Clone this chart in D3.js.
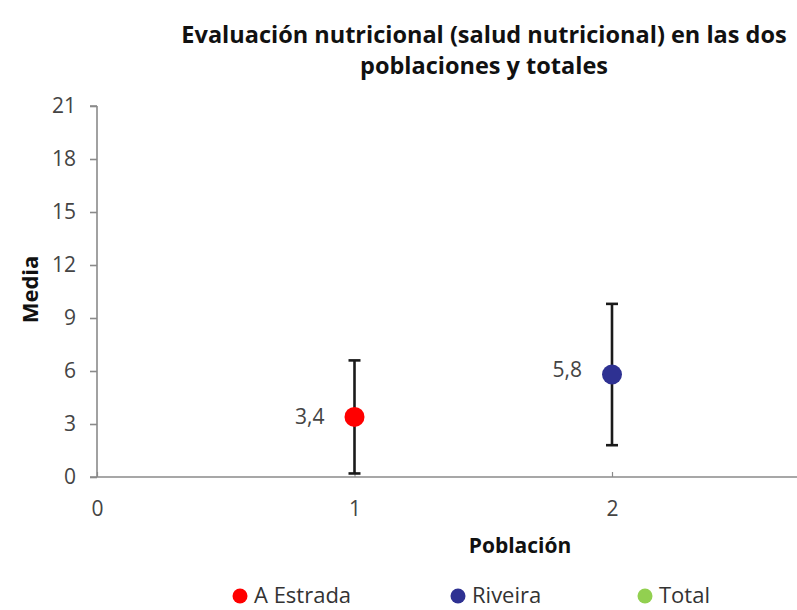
<!DOCTYPE html>
<html><head><meta charset="utf-8">
<script src="https://cdn.jsdelivr.net/npm/d3@7"></script>
<style>
body{margin:0;background:#fff;}
svg{display:block;font-family:"Open Sans",sans-serif;}
</style></head>
<body><svg id="c" width="797" height="610"></svg>
<script>
const categories = ["A Estrada", "Riveira", "Total"];
const xPositions = [1, 2, 3];
const means = [3.4, 5.8, 4.6];
const errors = [3.2, 4.0, 3.6];
const meanLabels = ["3,4", "5,8", "4,6"];
const colors = ["#ff0000", "#2e3192", "#92d050"];
const yTicks = [0, 3, 6, 9, 12, 15, 18, 21];
const xTicks = [0, 1, 2];

const W = 797;
const svg = d3.select("#c");
const x = d3.scaleLinear().domain([0, 3]).range([97, 869.5]);
const y = d3.scaleLinear().domain([0, 21]).range([477, 106]);

const axisColor = "#8a8a8a";
// Title
svg.append("text").attr("x", 484).attr("y", 43).attr("text-anchor", "middle")
  .attr("font-size", 23.5).attr("font-weight", "bold").attr("fill", "#111")
  .text("Evaluación nutricional (salud nutricional) en las dos");
svg.append("text").attr("x", 484).attr("y", 74).attr("text-anchor", "middle")
  .attr("font-size", 23.5).attr("font-weight", "bold").attr("fill", "#111")
  .text("poblaciones y totales");

// Y axis
const yAxis = svg.append("g").attr("transform", `translate(${x(0)},0)`)
  .call(d3.axisLeft(y).tickValues(yTicks).tickSize(7).tickPadding(14).tickFormat(d3.format("d")));
yAxis.select(".domain").attr("stroke", axisColor).attr("stroke-width", 1.6).attr("d", `M0,${y(21)}H-7M0,${y(21)}V${y(0)}`);
yAxis.selectAll(".tick line").attr("stroke", axisColor).attr("stroke-width", 1.6);
yAxis.selectAll(".tick text").attr("font-size", 21).attr("fill", "#444").attr("font-family", "Open Sans, sans-serif");

// X axis
const xAxis = svg.append("g").attr("transform", `translate(0,${y(0)})`)
  .call(d3.axisBottom(x).tickValues(xTicks).tickSize(-5).tickPadding(24).tickFormat(d3.format("d")));
xAxis.select(".domain").attr("stroke", axisColor).attr("stroke-width", 1.6).attr("d", `M${x(0)-7},0H${W + 10}`);
xAxis.selectAll(".tick line").attr("stroke", axisColor).attr("stroke-width", 1.2);
xAxis.selectAll(".tick text").attr("font-size", 21).attr("fill", "#444").attr("font-family", "Open Sans, sans-serif");

// Axis titles
svg.append("text").attr("transform", `translate(38,${(y(0)+y(21))/2 - 2}) rotate(-90)`)
  .attr("text-anchor", "middle").attr("font-size", 22).attr("font-weight", "bold").attr("fill", "#111").text("Media");
svg.append("text").attr("x", 520).attr("y", 553).attr("text-anchor", "middle")
  .attr("font-size", 21).attr("font-weight", "bold").attr("fill", "#111").text("Población");

// Error bars and points
const data = categories.map((c, i) => ({c, xv: xPositions[i], m: means[i], e: errors[i], lab: meanLabels[i], col: colors[i]}));
const g = svg.append("g");
data.forEach(d => {
  const cx = x(d.xv);
  g.append("line").attr("x1", cx).attr("x2", cx).attr("y1", y(d.m + d.e)).attr("y2", y(d.m - d.e))
    .attr("stroke", "#1a1a1a").attr("stroke-width", 2.6);
  [d.m + d.e, d.m - d.e].forEach(v => g.append("line").attr("x1", cx - 6).attr("x2", cx + 6)
    .attr("y1", y(v)).attr("y2", y(v)).attr("stroke", "#1a1a1a").attr("stroke-width", 2.6));
  g.append("circle").attr("cx", cx).attr("cy", y(d.m)).attr("r", 10).attr("fill", d.col);
  if (cx < W) {
    g.append("text").attr("x", cx - 30).attr("y", y(d.m) - (d.xv === 2 ? 5 : 0)).attr("dy", "0.35em")
      .attr("text-anchor", "end").attr("font-size", 21).attr("fill", "#444").text(d.lab);
  }
});

// Legend
const legX = [240, 458, 645];
data.forEach((d, i) => {
  svg.append("circle").attr("cx", legX[i]).attr("cy", 596).attr("r", 7.5).attr("fill", d.col);
  svg.append("text").attr("x", legX[i] + 14).attr("y", 595).attr("dy", "0.35em")
    .attr("font-size", 22).attr("fill", "#333").text(d.c);
});
</script></body></html>
